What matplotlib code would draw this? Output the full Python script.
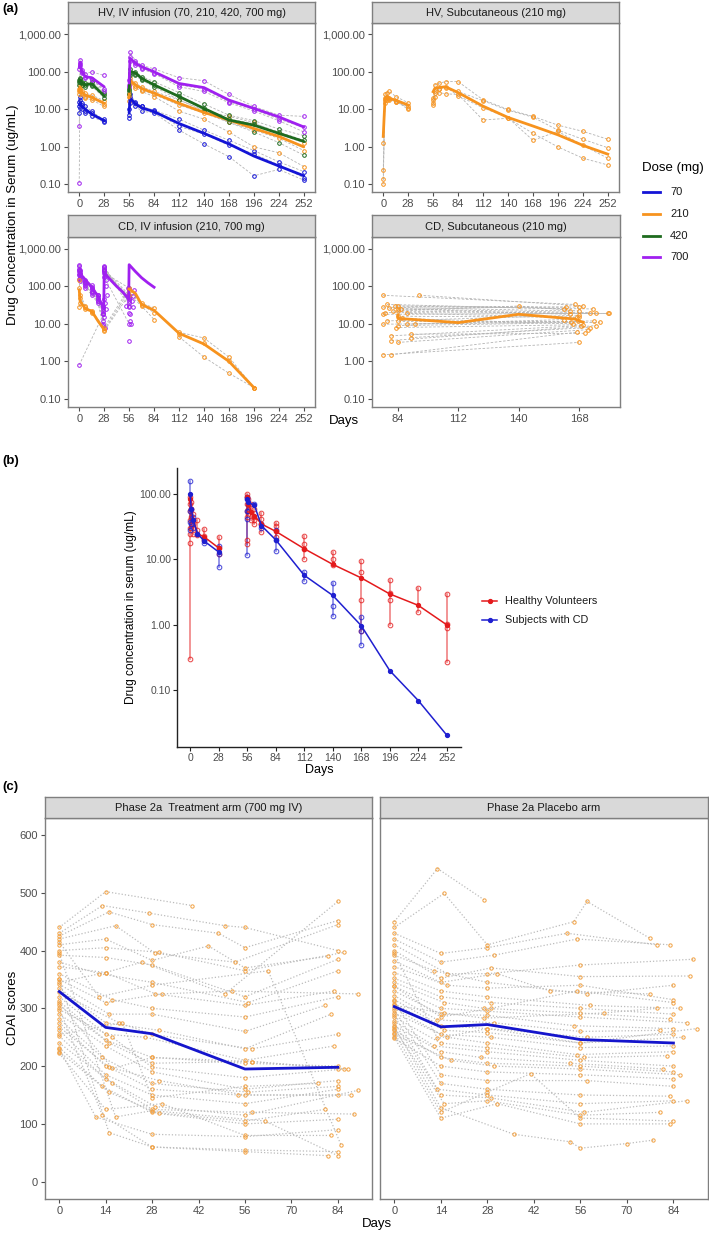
import numpy as np
import matplotlib
matplotlib.use("Agg")
import matplotlib.pyplot as plt
from matplotlib.lines import Line2D

plt.rcParams['font.family'] = ['Liberation Sans', 'DejaVu Sans']

# ---------------- DATA ----------------
DOSES = [70, 210, 420, 700]
DOSE_COLORS = ['#1414d6', '#f7931e', '#1e6b1e', '#a020f0']

# Panel (a) HV IV infusion
A1_DAYS = [0, 1, 3, 7, 14, 28, 56, 57, 63, 70, 84, 112, 140, 168, 196, 224, 252]
A1_MED = {
    70:  [13, 15, 12, 10, 7.5, 5, 8, 20, 14, 11, 8.7, 4.2, 2.3, 1.2, 0.57, 0.31, 0.17],
    210: [30, 40, 28, 24, 21, 14.5, 20, 60, 45, 36, 27, 14.5, 8.3, 5.2, 3.1, 1.9, 1.0],
    420: [55, 60, 50, 45, 48, 23, 30, 100, 95, 67, 45, 22, 10.6, 5.2, 3.8, 2.3, 1.4],
    700: [130, 180, 100, 74, 70, 40, 50, 230, 170, 137, 100, 49, 38, 17.7, 10.6, 6.3, 3.4],
}
A1_SUBJ = {
    70: [[12, 18, 13, 9, 8, 5.5, 7, 25, 16, 12, 9.5, 5.5, 2.8, 1.5, 0.8, 0.4, 0.22],
         [8, 11, 10, 8, 6.5, 4.5, 6, 15, 12, 9, 8, 2.8, 1.2, 0.55, 0.17, 0.25, 0.13],
         [16, 22, 15, 12, 9, 5, 10, 21, 15, 12, 9, 3.5, 2.2, 1.1, 0.65, 0.33, 0.15]],
    210: [[35, 45, 30, 27, 24, 17, 22, 70, 50, 40, 30, 18, 9.5, 6.5, 4.5, 2.2, 1.3],
          [25, 32, 25, 20, 18, 12, 17, 48, 38, 30, 22, 9, 5.5, 2.5, 1.0, 0.7, 0.3],
          [30, 38, 28, 22, 20, 14, 25, 55, 42, 33, 25, 13, 8, 4.5, 2.8, 1.7, 0.8]],
    420: [[60, 70, 55, 50, 55, 28, 35, 120, 100, 75, 55, 28, 14, 7, 5, 3, 2.0],
          [45, 55, 45, 40, 42, 20, 25, 85, 80, 60, 40, 18, 9, 4.5, 2.5, 1.3, 0.6],
          [55, 65, 50, 45, 45, 24, 30, 95, 90, 65, 45, 23, 11, 5.5, 4.2, 2.5, 1.5]],
    700: [[0.11, 210, 110, 90, 100, 80, 60, 330, 200, 150, 120, 70, 58, 25, 12, 7, 6.5],
          [3.5, 150, 95, 70, 60, 35, 40, 200, 150, 120, 90, 40, 30, 15, 9, 5, 2.5],
          [120, 170, 100, 75, 65, 30, 45, 250, 170, 130, 95, 45, 35, 16, 10, 5.5, 3.3]],
}

# Panel (a) HV subcutaneous 210 mg
A2_DAYS = [0, 2, 4, 7, 14, 28, 56, 58, 63, 70, 84, 112, 140, 168, 196, 224, 252]
A2_MED = [1.9, 19.6, 21.8, 19.6, 17.6, 13, 29.6, 36.5, 38.5, 40, 28, 12.2, 6.1, 3.6, 2.1, 1.1, 0.64]
A2_SUBJ = [[0.1, 25, 28, 30, 22, 15, 20, 45, 50, 55, 55, 18, 10, 6.5, 3.8, 2.6, 1.6],
           [0.24, 18, 20, 18, 16, 12, 15, 28, 35, 38, 30, 17, 9.5, 6.2, 2.8, 1.6, 0.95],
           [1.3, 15, 22, 20, 17, 10, 13, 22, 28, 26, 25, 5.2, 5.8, 2.3, 1.0, 0.5, 0.33],
           [0.14, 20, 18, 19, 16, 11, 18, 30, 35, 40, 23, 11, 6, 1.5, 2.6, 1.1, 0.5]]

# Panel (a) CD IV infusion 210 / 700 mg
A3_P_DAYS = [0, 7, 14, 21, 27.5, 28, 35, 42, 49, 55.5, 56, 63, 70, 77, 84]
A3_P_MED = [230, 150, 95, 55, 25, 230, 150, 100, 70, 45, 380, 250, 170, 125, 95]
A3_O_DAYS = [0, 1, 7, 14, 21, 28, 56, 63, 70, 84, 112, 140, 168, 196]
A3_O_MED = [80, 40, 25, 22, 12, 7, 85, 65, 33, 23, 5.6, 2.9, 1.0, 0.2]
A3_P_SUBJ_DAYS = [0, 1, 7, 14, 21, 27, 28, 56]
A3_P_SUBJ = [[380, 280, 150, 110, 60, 30, 300, 40],
             [300, 230, 130, 90, 55, 25, 250, 55],
             [250, 200, 120, 75, 45, 18, 350, 28],
             [200, 160, 100, 70, 40, 12, 180, 10],
             [160, 140, 90, 60, 35, 9, 230, 90],
             [220, 180, 110, 65, 40, 20, 280, 60],
             [340, 250, 140, 85, 50, 22, 320, 35],
             [280, 210, 125, 95, 58, 28, 260, 48]]
A3_P_LOW_DAYS = [0, 27]
A3_P_LOW = [0.8, 18]
A3_P_EXTRA_DAYS = [28, 28, 29, 30, 30, 31, 28, 29, 30, 28, 27, 29, 55, 55, 56, 56, 56, 57, 57, 58, 59, 60, 60, 61, 52, 56]
A3_P_EXTRA = [320, 270, 200, 150, 100, 60, 45, 35, 25, 15, 10, 8, 90, 60, 45, 30, 20, 18, 12, 10, 40, 55, 28, 80, 30, 3.5]
A3_O_SUBJ_DAYS = [0, 1, 7, 14, 28, 56, 70, 84, 112, 140, 168, 196]
A3_O_SUBJ = [[150, 60, 30, 22, 8, 90, 35, 27, 6, 4.2, 1.3, 0.2],
             [28, 35, 25, 20, 6.5, 60, 30, 13, 4.5, 1.3, 0.48, 0.2],
             [90, 50, 28, 21, 7, 75, 32, 20, 5.5, 3.0, 1.0, 0.2]]

# Panel (a) CD subcutaneous 210 mg
A4_MED_DAYS = [84, 84, 112, 140, 166, 168, 170]
A4_MED = [17, 14, 10.8, 18, 13.5, 12, 11]
A4_SUBJ = [
    [(77, 58), (166, 33)], [(94, 58), (170, 30)], [(79, 33), (161, 25)],
    [(77, 28), (164, 22)], [(82.5, 30), (174.5, 25)], [(84, 30), (168, 28)],
    [(84, 25), (173, 20)], [(85.5, 25), (163.7, 18)], [(81.7, 22), (176, 19)],
    [(77, 18), (181.5, 19)], [(88, 19), (167, 15)], [(84, 16), (168, 15)],
    [(84, 12), (167.5, 12)], [(77, 9.8), (164.4, 11)], [(88, 9.8), (161, 13)],
    [(84, 9), (177.6, 11)], [(81, 4.8), (169, 9)], [(81, 3.6), (176, 9)],
    [(90, 5.3), (171, 5.6)], [(90, 4.3), (173, 8)], [(84, 3.2), (172, 7)],
    [(77, 1.5), (168, 3.2)], [(81, 1.5), (167, 6)], [(84, 22), (140, 30), (168, 22)],
    [(78, 20), (182, 19)], [(86, 14), (165, 10)], [(80, 26), (162, 28)],
    [(83, 8), (170, 9.5)], [(92, 10), (175, 12)], [(79, 12), (168, 17)],
]

# Panel (b)
B_HV_DAYS = [0, 1, 3, 7, 14, 28, 56, 57, 60, 63, 70, 84, 112, 140, 168, 196, 224, 252]
B_HV_MEAN = [85, 60, 40, 25, 22, 15, 91, 72, 53, 47, 35, 27, 14.6, 8.4, 5.2, 2.95, 1.97, 0.99]
B_HV_IND = [[0.3, 18, 25, 30, 40, 55, 70, 90], [30, 45, 60, 75], [25, 35, 40, 50], [24, 28, 40],
            [20, 23, 29], [12, 15, 22], [17, 20, 45, 55, 70, 90, 100], [50, 60, 85], [40, 70],
            [35, 40, 45, 60], [26, 35, 42, 52], [22, 27, 33, 36], [10, 14.5, 17.5, 23],
            [8.1, 10.3, 12.8], [0.8, 2.4, 6.3, 9.3], [1.0, 2.4, 3.1, 4.8], [1.55, 3.6],
            [0.27, 0.9, 1.02, 2.9]]
B_CD_DAYS = [0, 1, 3, 7, 14, 28, 56, 57, 63, 70, 84, 112, 140, 168, 196, 224, 252]
B_CD_MEAN = [100, 60, 40, 25, 19, 13, 85, 75, 68, 33, 20, 5.7, 2.8, 0.96, 0.196, 0.068, 0.020]
B_CD_IND = [[28, 38, 55, 160], [35, 60], [30, 45], [25], [18, 20], [7.7, 12, 16],
            [11.5, 42, 55, 85, 90], [55, 70], [70], [30, 35], [13.5, 20, 28], [4.6, 6.3],
            [1.35, 1.9, 4.4], [0.48, 0.8, 1.3], [], [], []]

# Panel (c) CDAI
C_DAYS = [0, 14, 28, 56, 84]
C_TRT_MEAN = [329, 267, 256, 195, 198]
C_PBO_MEAN = [303, 268, 272, 246, 240]
C_TRT_SUBJ = [
    [(0, 440), (14, 502), (40, 478)],
    [(0, 430), (13, 478), (27, 465), (50, 443), (56, 440), (84, 400)],
    [(0, 425), (15, 467), (28, 445), (48, 430), (56, 405), (84, 452)],
    [(0, 420), (17, 443), (29, 395), (53, 380), (84, 445)],
    [(0, 410), (14, 420), (28, 383), (45, 408), (56, 370), (81, 390)],
    [(0, 400), (14, 405), (30, 397), (56, 365), (86, 397)],
    [(0, 392), (14, 388), (28, 375), (56, 320), (84, 385)],
    [(0, 380), (12, 360), (28, 345), (57, 310), (84, 365)],
    [(0, 372), (14, 362), (29, 325), (56, 305), (83, 330)],
    [(0, 360), (16, 315), (28, 300), (56, 285), (84, 320)],
    [(0, 350), (14, 310), (31, 325), (52, 330), (90, 325)],
    [(0, 342), (15, 290), (28, 290), (56, 260), (80, 305)],
    [(0, 335), (14, 275), (30, 262), (56, 230), (82, 290)],
    [(0, 328), (18, 275), (28, 255), (58, 230), (84, 255)],
    [(0, 320), (14, 255), (26, 250), (56, 210), (83, 235)],
    [(0, 312), (14, 245), (28, 215), (56, 205), (84, 200)],
    [(0, 305), (15, 240), (28, 205), (58, 208), (84, 195)],
    [(0, 298), (16, 250), (28, 198), (56, 180), (86, 195)],
    [(0, 290), (14, 235), (28, 190), (56, 160), (84, 175)],
    [(0, 282), (13, 215), (28, 170), (57, 155), (84, 165)],
    [(0, 275), (14, 200), (30, 175), (56, 150), (88, 150)],
    [(0, 268), (15, 198), (28, 160), (54, 150), (84, 150)],
    [(0, 262), (14, 185), (28, 150), (56, 135), (84, 160)],
    [(0, 252), (14, 178), (29, 130), (56, 115), (90, 158)],
    [(0, 240), (16, 170), (28, 125), (58, 120), (89, 117)],
    [(0, 232), (13, 165), (28, 120), (56, 105), (80, 125)],
    [(0, 225), (15, 155), (30, 118), (56, 100), (84, 108)],
    [(0, 222), (14, 125), (31, 135), (56, 80), (82, 80)],
    [(0, 230), (11, 112), (28, 82), (56, 78), (84, 90)],
    [(0, 300), (13, 115), (28, 60), (56, 55), (84, 52)],
    [(0, 350), (15, 85), (28, 60), (56, 52), (81, 45)],
    [(0, 395), (17, 112), (28, 123), (62, 105), (84, 45)],
    [(0, 415), (12, 320), (28, 340), (63, 365), (85, 63)],
    [(0, 345), (14, 362), (25, 380), (50, 325), (84, 485)],
    [(0, 310), (16, 196), (28, 215), (58, 208), (87, 195)],
    [(0, 255), (19, 275), (28, 145), (56, 165), (78, 170)],
]
C_PBO_SUBJ = [
    [(0, 450), (13, 542), (27, 488)],
    [(0, 440), (15, 499), (28, 410), (54, 450), (58, 485), (77, 421)],
    [(0, 430), (14, 395), (28, 405), (52, 430), (79, 410)],
    [(0, 420), (14, 380), (30, 392), (55, 420), (83, 410)],
    [(0, 410), (16, 360), (28, 360), (56, 375), (90, 385)],
    [(0, 400), (14, 352), (29, 370), (56, 355), (89, 356)],
    [(0, 392), (12, 365), (28, 345), (58, 325), (84, 340)],
    [(0, 382), (14, 345), (31, 360), (47, 330), (77, 325)],
    [(0, 372), (16, 340), (28, 335), (56, 340), (84, 315)],
    [(0, 362), (14, 330), (28, 320), (59, 305), (86, 300)],
    [(0, 352), (14, 320), (29, 310), (56, 300), (84, 290)],
    [(0, 345), (15, 310), (27, 300), (56, 292), (83, 282)],
    [(0, 338), (14, 300), (28, 295), (56, 285), (88, 275)],
    [(0, 330), (14, 290), (28, 288), (54, 270), (84, 265)],
    [(0, 322), (13, 280), (30, 275), (56, 260), (80, 262)],
    [(0, 315), (14, 270), (28, 265), (58, 250), (84, 255)],
    [(0, 308), (15, 262), (28, 258), (56, 240), (87, 250)],
    [(0, 300), (14, 255), (29, 250), (56, 232), (84, 235)],
    [(0, 292), (16, 250), (28, 240), (55, 220), (84, 225)],
    [(0, 285), (14, 240), (28, 232), (57, 215), (82, 218)],
    [(0, 278), (12, 235), (28, 225), (56, 210), (84, 200)],
    [(0, 270), (14, 225), (26, 215), (53, 205), (81, 195)],
    [(0, 262), (14, 215), (28, 205), (56, 200), (84, 190)],
    [(0, 255), (17, 210), (30, 200), (56, 195), (86, 185)],
    [(0, 248), (14, 200), (28, 190), (56, 185), (84, 178)],
    [(0, 312), (14, 185), (28, 175), (58, 175), (84, 165)],
    [(0, 298), (14, 170), (28, 160), (56, 150), (83, 148)],
    [(0, 288), (13, 160), (28, 150), (56, 135), (84, 140)],
    [(0, 275), (14, 150), (29, 145), (57, 120), (88, 140)],
    [(0, 265), (15, 135), (28, 140), (56, 115), (80, 120)],
    [(0, 258), (14, 120), (28, 155), (41, 187), (56, 110), (84, 105)],
    [(0, 250), (14, 110), (31, 135), (56, 100), (83, 100)],
    [(0, 268), (14, 128), (36, 82), (53, 69), (56, 58), (70, 66), (78, 72)],
    [(0, 395), (13, 248), (28, 265), (56, 240), (91, 265)],
    [(0, 305), (15, 292), (27, 283), (63, 292), (79, 300)],
    [(0, 338), (14, 285), (29, 300), (55, 330), (84, 310)],
]

LOG_TICKS = [0.1, 1, 10, 100, 1000]
LOG_TICKLABELS = ['0.10', '1.00', '10.00', '100.00', '1,000.00']

# ---------------- FIGURE ----------------
W, H = 709, 1235
fig = plt.figure(figsize=(W / 100, H / 100), dpi=100)

FRAME = '#7f7f7f'
TICKC = '#4d4d4d'
GRAYDASH = '#b4b4b4'
ORANGE = '#f7931e'


def add_ax(l, t, r, b):
    return fig.add_axes([l / W, 1 - b / H, (r - l) / W, (b - t) / H])


def strip(l, t, r, b, text):
    s = add_ax(l, t, r, b)
    s.set_facecolor('#d9d9d9')
    s.set_xticks([])
    s.set_yticks([])
    for sp in s.spines.values():
        sp.set_color(FRAME)
        sp.set_linewidth(1.0)
    s.text(0.5, 0.48, text, ha='center', va='center', fontsize=8,
           color='#1a1a1a', transform=s.transAxes)


def style(ax):
    for sp in ax.spines.values():
        sp.set_color(FRAME)
        sp.set_linewidth(1.0)
    ax.tick_params(axis='both', which='major', color=TICKC, labelcolor=TICKC,
                   labelsize=8, length=3, width=0.8, pad=2)
    ax.tick_params(axis='both', which='minor', length=0)


def logstyle(ax):
    ax.set_yscale('log')
    ax.set_ylim(10 ** -1.21, 10 ** 3.31)
    ax.set_yticks(LOG_TICKS)
    ax.set_yticklabels(LOG_TICKLABELS)
    ax.minorticks_off()


def gap_plot(ax, days, vals, gap=28, **kw):
    d = np.asarray(days, float)
    v = np.asarray(vals, float)
    m = d <= gap
    ax.plot(d[m], v[m], **kw)
    ax.plot(d[~m], v[~m], **kw)


def subj_plot(ax, days, vals, color, gap=28):
    gap_plot(ax, days, vals, gap, color=GRAYDASH, lw=0.6, ls=(0, (3, 2)), zorder=1)
    ax.plot(days, vals, ls='none', marker='o', ms=2.6, mfc='none', mec=color, mew=0.7, zorder=2)


ax_ticks_full = list(range(0, 253, 28))

# a1
ax1 = add_ax(68, 22.7, 315, 192.3)
strip(68, 2, 315, 22.7, 'HV, IV infusion (70, 210, 420, 700 mg)')
for dose, col in zip(DOSES, DOSE_COLORS):
    for s in A1_SUBJ[dose]:
        subj_plot(ax1, A1_DAYS, s, col)
for dose, col in zip(DOSES, DOSE_COLORS):
    gap_plot(ax1, A1_DAYS, A1_MED[dose], color=col, lw=2.0, zorder=3, solid_capstyle='round')

# a2
ax2 = add_ax(372, 22.7, 619, 192.3)
strip(372, 2, 619, 22.7, 'HV, Subcutaneous (210 mg)')
for s in A2_SUBJ:
    subj_plot(ax2, A2_DAYS, s, ORANGE)
gap_plot(ax2, A2_DAYS, A2_MED, color=ORANGE, lw=2.0, zorder=3)

# a3
ax3 = add_ax(68, 237.3, 315, 406.7)
strip(68, 215, 315, 237.3, 'CD, IV infusion (210, 700 mg)')
for s in A3_P_SUBJ:
    subj_plot(ax3, A3_P_SUBJ_DAYS, s, DOSE_COLORS[3], gap=100)
subj_plot(ax3, A3_P_LOW_DAYS, A3_P_LOW, DOSE_COLORS[3], gap=100)
ax3.plot(A3_P_EXTRA_DAYS, A3_P_EXTRA, ls='none', marker='o', ms=2.6, mfc='none',
         mec=DOSE_COLORS[3], mew=0.7, zorder=2)
for s in A3_O_SUBJ:
    subj_plot(ax3, A3_O_SUBJ_DAYS, s, ORANGE, gap=100)
ax3.plot(A3_P_DAYS, A3_P_MED, color=DOSE_COLORS[3], lw=2.0, zorder=3)
gap_plot(ax3, A3_O_DAYS, A3_O_MED, color=ORANGE, lw=2.0, zorder=3)

# a4
ax4 = add_ax(372, 237.3, 620, 406.7)
strip(372, 215, 620, 237.3, 'CD, Subcutaneous (210 mg)')
for s in A4_SUBJ:
    d = [p[0] for p in s]
    v = [p[1] for p in s]
    subj_plot(ax4, d, v, ORANGE, gap=1000)
ax4.plot(A4_MED_DAYS, A4_MED, color=ORANGE, lw=2.0, zorder=3)

for ax in (ax1, ax2, ax3):
    logstyle(ax)
    ax.set_xlim(-12.6, 264.6)
    ax.set_xticks(ax_ticks_full)
    style(ax)
logstyle(ax4)
ax4.set_xlim(72, 187)
ax4.set_xticks([84, 112, 140, 168])
style(ax4)

fig.text(13 / W, 1 - 215 / H, 'Drug Concentration in Serum (ug/mL)', rotation=90,
         ha='center', va='center', fontsize=9.5)
fig.text(344 / W, 1 - 421 / H, 'Days', ha='center', va='center', fontsize=9.5)
fig.text(2 / W, 1 - 9 / H, '(a)', ha='left', va='center', fontsize=9.5, fontweight='bold')

# legend (a)
fig.text(642 / W, 1 - 168 / H, 'Dose (mg)', ha='left', va='center', fontsize=9.5)
for i, (dose, col) in enumerate(zip(DOSES, DOSE_COLORS)):
    y = 1 - (192.3 + i * 21.7) / H
    fig.add_artist(Line2D([643 / W, 660 / W], [y, y], color=col, lw=2.0))
    fig.text(670 / W, y, str(dose), ha='left', va='center', fontsize=8, color='#1a1a1a')

# ---------------- Panel (b) ----------------
axb = add_ax(177, 468.3, 461, 746.7)
axb.set_yscale('log')
axb.set_xlim(-13, 266)
axb.set_ylim(10 ** -1.877, 10 ** 2.4)
RED = '#e41a1c'
BLUEB = '#1f1fd0'
for days, ind, col in ((B_HV_DAYS, B_HV_IND, RED), (B_CD_DAYS, B_CD_IND, BLUEB)):
    for d, vals in zip(days, ind):
        if len(vals) >= 2:
            axb.plot([d, d], [min(vals), max(vals)], color=col, lw=1.2, alpha=0.55, zorder=2)
        if len(vals):
            axb.plot([d] * len(vals), vals, ls='none', marker='o', ms=3.3, mfc='none',
                     mec=col, mew=0.8, alpha=0.75, zorder=3)
gap_plot(axb, B_HV_DAYS, B_HV_MEAN, color=RED, lw=1.1, marker='o', ms=2.8, zorder=4)
gap_plot(axb, B_CD_DAYS, B_CD_MEAN, color=BLUEB, lw=1.1, marker='o', ms=2.8, zorder=4)
axb.set_yticks([0.1, 1, 10, 100])
axb.set_yticklabels(['0.10', '1.00', '10.00', '100.00'])
axb.minorticks_off()
axb.set_xticks(ax_ticks_full)
for side in ('top', 'right'):
    axb.spines[side].set_visible(False)
for side in ('left', 'bottom'):
    axb.spines[side].set_color('#222222')
    axb.spines[side].set_linewidth(1.0)
axb.tick_params(axis='both', which='major', color='#222222', labelcolor=TICKC,
                labelsize=7.5, length=3, width=0.8, pad=1.5)

fig.text(131 / W, 1 - 607 / H, 'Drug concentration in serum (ug/mL)', rotation=90,
         ha='center', va='center', fontsize=8.6)
fig.text(319 / W, 1 - 770.5 / H, 'Days', ha='center', va='center', fontsize=9)
fig.text(2 / W, 1 - 461 / H, '(b)', ha='left', va='center', fontsize=9.5, fontweight='bold')
for i, (lab, col) in enumerate((('Healthy Volunteers', RED), ('Subjects with CD', BLUEB))):
    y = 1 - (601 + i * 19) / H
    fig.add_artist(Line2D([482 / W, 497 / W], [y, y], color=col, lw=1.1))
    fig.add_artist(Line2D([489.5 / W], [y], color=col, marker='o', ms=2.8, ls='none'))
    fig.text(505 / W, y, lab, ha='left', va='center', fontsize=7.8, color='#1a1a1a')

# ---------------- Panel (c) ----------------
def cdai_panel(l, r, subjects, mean, title):
    ax = add_ax(l, 817.7, r, 1199)
    strip(l, 796.7, r, 817.7, title)
    for s in subjects:
        d = [p[0] for p in s]
        v = [p[1] for p in s]
        ax.plot(d, v, color='#bcbcbc', lw=0.9, ls=(0, (1, 1.6)), zorder=1)
        ax.plot(d, v, ls='none', marker='o', ms=2.4, mfc='none', mec='#f2a142', mew=0.7, zorder=2)
    ax.plot(C_DAYS, mean, color='#1515cc', lw=2.0, zorder=3)
    ax.set_xlim(-4.3, 94.4)
    ax.set_ylim(-30, 630)
    ax.set_xticks([0, 14, 28, 42, 56, 70, 84])
    ax.set_yticks([0, 100, 200, 300, 400, 500, 600])
    style(ax)
    return ax

axc1 = cdai_panel(45, 372.3, C_TRT_SUBJ, C_TRT_MEAN, 'Phase 2a  Treatment arm (700 mg IV)')
axc2 = cdai_panel(380, 708, C_PBO_SUBJ, C_PBO_MEAN, 'Phase 2a Placebo arm')
axc2.set_yticklabels([])
axc2.tick_params(axis='y', length=0)

fig.text(13 / W, 1 - 1008 / H, 'CDAI scores', rotation=90, ha='center', va='center', fontsize=9.5)
fig.text(377 / W, 1 - 1224 / H, 'Days', ha='center', va='center', fontsize=9.5)
fig.text(2 / W, 1 - 787 / H, '(c)', ha='left', va='center', fontsize=9.5, fontweight='bold')

fig.savefig('out.png', dpi=100)
